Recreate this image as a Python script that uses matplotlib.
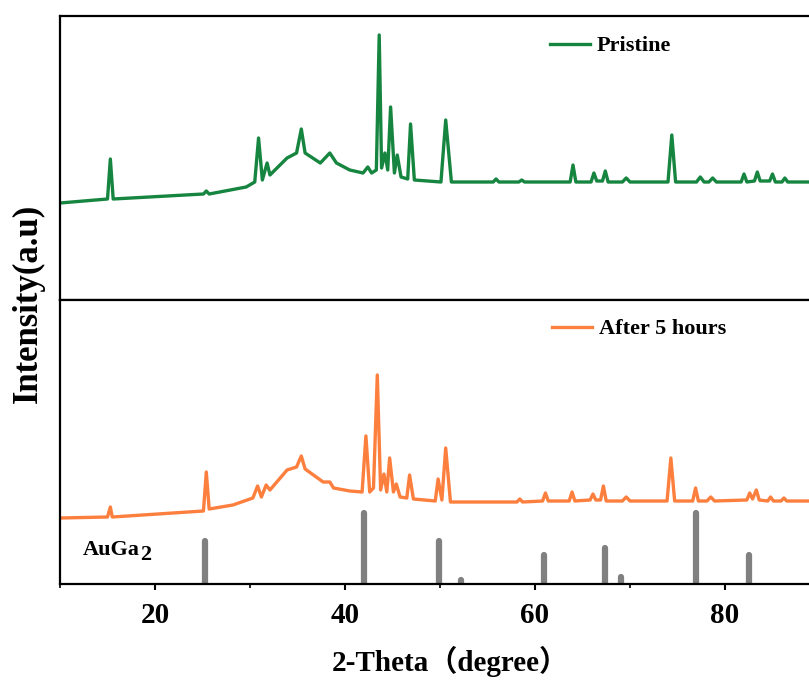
import matplotlib
matplotlib.use("Agg")
import matplotlib.pyplot as plt
from matplotlib.ticker import MultipleLocator

# ---------------- data ----------------
# Pristine pattern: 2-theta (deg) and intensity (a.u.)
pristine_x = [10.0, 15.0, 15.3, 15.6, 25.1, 25.4, 25.7, 29.6, 30.5, 30.9, 31.3, 31.8,
              32.1, 33.9, 34.9, 35.4, 35.8, 37.4, 38.4, 39.1, 40.5, 41.9, 42.4, 42.8,
              43.3, 43.6, 43.85, 44.2, 44.5, 44.8, 45.2, 45.5, 45.9, 46.6, 46.9, 47.3,
              50.1, 50.6, 51.2, 55.6, 55.9, 56.2, 58.3, 58.6, 58.9, 63.7, 64.0, 64.3,
              65.9, 66.2, 66.5, 67.1, 67.4, 67.7, 69.2, 69.6, 70.0, 74.0, 74.4, 74.8,
              77.0, 77.4, 77.8, 78.3, 78.7, 79.1, 81.7, 82.0, 82.3, 83.1, 83.4, 83.7,
              84.7, 85.0, 85.3, 86.0, 86.3, 86.6, 90.0]
pristine_y = [97, 101, 141, 101, 106, 109, 106, 113, 118, 162, 120, 137,
              125, 142, 147, 171, 147, 137, 147, 137, 130, 127, 133, 127,
              130, 265, 132, 147, 130, 193, 127, 145, 123, 121, 176, 120,
              118, 180, 118, 118, 121, 118, 118, 120, 118, 118, 135, 118,
              118, 127, 119, 119, 129, 118, 118, 122, 118, 118, 165, 118,
              118, 123, 118, 118, 122, 118, 118, 126, 118, 119, 128, 119,
              119, 126, 118, 118, 122, 118, 118]

# After 5 hours pattern
after_x = [10.0, 15.0, 15.3, 15.5, 25.1, 25.4, 25.7, 28.2, 30.3, 30.8, 31.2, 31.7,
           32.1, 33.9, 34.9, 35.4, 35.8, 37.7, 38.4, 38.8, 40.5, 41.8, 42.2, 42.6,
           43.0, 43.4, 43.75, 44.1, 44.4, 44.7, 45.1, 45.4, 45.8, 46.5, 46.8, 47.2,
           49.5, 49.8, 50.2, 50.6, 51.1, 58.1, 58.4, 58.7, 60.8, 61.1, 61.4, 63.6,
           63.9, 64.2, 65.8, 66.1, 66.4, 66.9, 67.2, 67.5, 69.2, 69.6, 70.0, 73.9,
           74.3, 74.7, 76.6, 76.9, 77.2, 78.1, 78.5, 78.9, 82.3, 82.6, 82.9, 83.3,
           83.6, 84.5, 84.8, 85.1, 85.9, 86.2, 86.5, 90.0]
after_y = [66, 67, 77, 67, 73, 112, 75, 79, 86, 98, 87, 99,
           94, 114, 117, 128, 115, 102, 102, 96, 93, 92, 148, 92,
           96, 209, 94, 110, 92, 126, 92, 100, 87, 86, 109, 85,
           83, 105, 84, 136, 82, 82, 85, 82, 83, 91, 83, 83,
           92, 83, 84, 90, 84, 84, 98, 83, 83, 87, 83, 83,
           126, 83, 83, 96, 83, 83, 87, 83, 84, 91, 85, 94,
           84, 83, 87, 83, 83, 86, 83, 83]

# AuGa2 reference lines: position and relative intensity (%)
ref_pos = [25.3, 42.0, 49.85, 52.2, 61.0, 67.4, 69.1, 76.9, 82.5]
ref_int = [61, 100, 61, 6, 41, 51, 10, 100, 41]

xticks_major = [20, 40, 60, 80]

# ---------------- styling ----------------
GREEN = "#168540"
ORANGE = "#fd7f3e"
GREY = "#808080"
SERIF = ["Liberation Serif", "Noto Sans CJK SC", "DejaVu Serif"]
plt.rcParams["font.family"] = SERIF
plt.rcParams["font.weight"] = "bold"

W, H = 809, 682
fig = plt.figure(figsize=(W / 100, H / 100), dpi=100)

def frac_box(l, t, r, b):
    return [l / W, 1 - b / H, (r - l) / W, (b - t) / H]

ax1 = fig.add_axes(frac_box(60, 16, 820, 300))
ax2 = fig.add_axes(frac_box(60, 300, 820, 584))

for ax in (ax1, ax2):
    ax.set_xlim(10, 90)
    ax.set_ylim(0, 284)
    ax.set_yticks([])
    for s in ax.spines.values():
        s.set_linewidth(1.6)

ax1.plot(pristine_x, pristine_y, color=GREEN, lw=2.4, label="Pristine",
         solid_joinstyle="round")
ax2.plot(after_x, after_y, color=ORANGE, lw=2.4, label="After 5 hours",
         solid_joinstyle="round")

ref_scale = 0.71
ax2.vlines(ref_pos, 0, [v * ref_scale for v in ref_int], color=GREY,
           linewidth=4.5, capstyle="round")

ax1.tick_params(axis="x", which="both", bottom=False, labelbottom=False)
ax2.xaxis.set_major_locator(plt.FixedLocator(xticks_major))
ax2.xaxis.set_minor_locator(MultipleLocator(10))
ax2.tick_params(axis="x", which="major", direction="out", length=4, width=1.5,
                pad=9, labelsize=21)
ax2.tick_params(axis="x", which="minor", direction="out", length=3, width=1.2)
for lab in ax2.get_xticklabels():
    lab.set_fontweight("bold")

ax2.set_xlabel("2-Theta（degree）", fontsize=21, fontweight="bold")
ax2.xaxis.set_label_coords((450 - 60) / 760, (584 - 646) / 284)
fig.text(28 / W, 1 - 303 / H, "Intensity(a.u)", rotation=90, fontsize=25,
         fontweight="bold", ha="center", va="center")

leg_kw = dict(frameon=False, loc="center left", borderaxespad=0, borderpad=0,
              handlelength=1.8, handletextpad=0.3,
              prop={"family": SERIF, "weight": "bold", "size": 16})
ax1.legend(bbox_to_anchor=((550 - 60) / 760, (300 - 46) / 284), **leg_kw)
ax2.legend(bbox_to_anchor=((552 - 60) / 760, (584 - 329) / 284), **leg_kw)

ax2.text((83 - 60) / 760, (584 - 550) / 284, "AuGa", transform=ax2.transAxes,
         fontsize=16, fontweight="bold", ha="left", va="center")
ax2.text((140 - 60) / 760, (584 - 555) / 284, "2", transform=ax2.transAxes,
         fontsize=16, fontweight="bold", ha="left", va="center")

fig.savefig("out.png", dpi=100)
